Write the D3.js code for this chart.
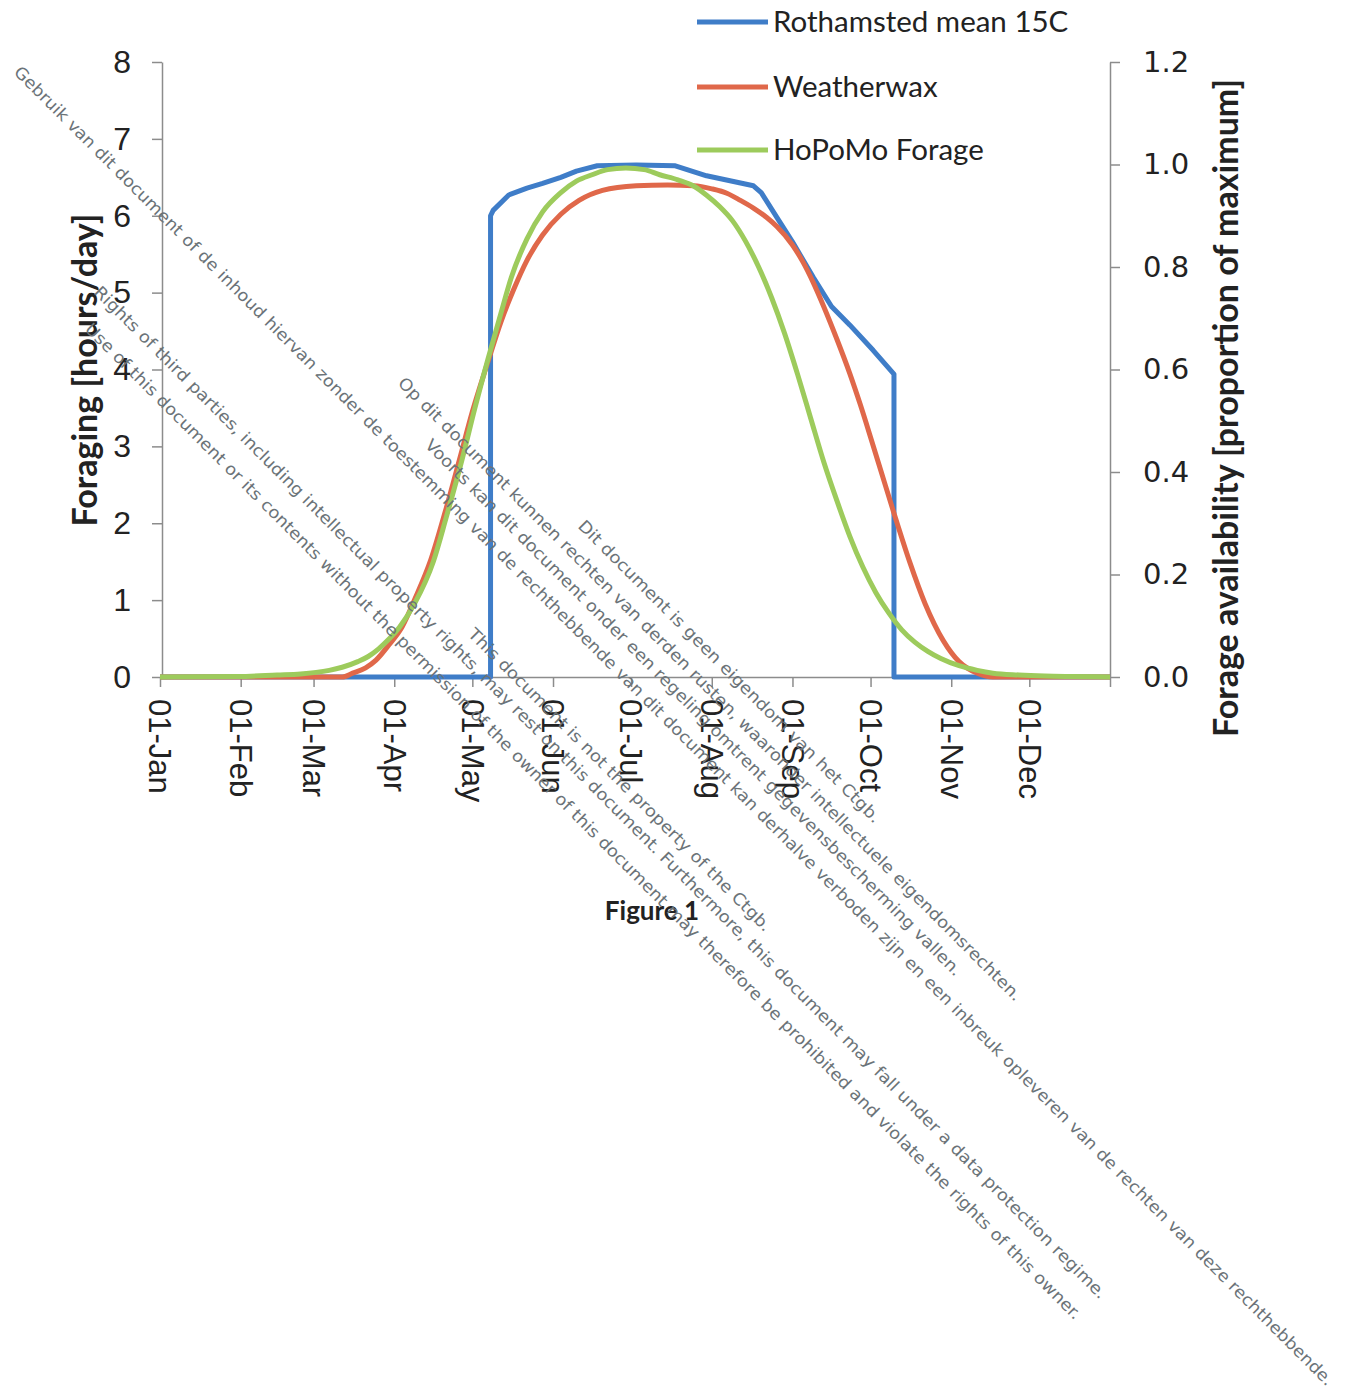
<!DOCTYPE html>
<html>
<head>
<meta charset="utf-8">
<script src="https://cdn.jsdelivr.net/npm/d3@7"></script>
<style>
  body { margin: 0; background: #fff; }
  #chart { width: 1348px; height: 1394px; }
</style>
</head>
<body>
<div id="chart"></div>
<script>
// Rothamsted mean 15C (foraging hours/day), day of year
const rothDays  = [0, 127, 127, 128, 134, 141, 147, 154, 160, 168, 183, 198, 210, 228, 231, 237, 243, 251, 258, 265, 274, 282, 282, 365];
const rothHours = [0, 0, 6.0, 6.07, 6.27, 6.36, 6.42, 6.5, 6.58, 6.65, 6.66, 6.65, 6.52, 6.39, 6.3, 5.98, 5.66, 5.2, 4.82, 4.58, 4.25, 3.94, 0, 0];

// Weatherwax (foraging hours/day)
const weatherDays  = [0, 70, 74, 79, 83, 88, 93, 98, 104, 110, 115, 120, 126, 131, 136, 141, 147, 154, 161, 170, 183, 195, 205, 212, 218, 223, 228, 233, 237, 243, 247, 251, 255, 260, 265, 269, 273, 277, 282, 288, 294, 301, 307, 314, 320, 365];
const weatherHours = [0, 0, 0.05, 0.12, 0.22, 0.42, 0.65, 1.02, 1.52, 2.2, 2.82, 3.45, 4.1, 4.62, 5.05, 5.42, 5.75, 6.02, 6.2, 6.33, 6.39, 6.4, 6.39, 6.35, 6.29, 6.2, 6.1, 5.98, 5.86, 5.62, 5.4, 5.13, 4.82, 4.4, 3.95, 3.55, 3.12, 2.68, 2.13, 1.5, 0.95, 0.47, 0.2, 0.05, 0, 0];

// HoPoMo forage (proportion of maximum)
const hopomoDays = [0, 30, 45, 54, 60, 65, 70, 76, 80, 84, 88, 92, 98, 105, 110, 116, 121, 126, 131, 135, 141, 147, 154, 160, 166, 172, 179, 186, 192, 199, 205, 210, 215, 220, 225, 230, 235, 240, 245, 250, 255, 260, 265, 270, 275, 280, 285, 290, 295, 300, 307, 314, 320, 330, 340, 350, 365];
const hopomoProp = [0, 0.001, 0.004, 0.006, 0.009, 0.013, 0.019, 0.03, 0.04, 0.055, 0.074, 0.097, 0.145, 0.225, 0.312, 0.423, 0.525, 0.62, 0.71, 0.78, 0.855, 0.9075, 0.945, 0.9675, 0.98, 0.99, 0.993, 0.99, 0.98, 0.97, 0.958, 0.94, 0.918, 0.89, 0.85, 0.80, 0.74, 0.67, 0.59, 0.505, 0.42, 0.345, 0.275, 0.215, 0.165, 0.125, 0.092, 0.068, 0.05, 0.036, 0.022, 0.013, 0.0075, 0.004, 0.002, 0.001, 0];

const seriesNames = ['Rothamsted mean 15C', 'Weatherwax', 'HoPoMo Forage'];
const leftTicks = [0, 1, 2, 3, 4, 5, 6, 7, 8];
const rightTicks = [0, 0.2, 0.4, 0.6, 0.8, 1.0, 1.2];
const leftTitle = 'Foraging [hours/day]';
const rightTitle = 'Forage availability [proportion of maximum]';
const caption = 'Figure 1';

// scanned document stamp
const stampLines = [
  'Dit document is geen eigendom van het Ctgb.',
  'Op dit document kunnen rechten van derden rusten, waaronder intellectuele eigendomsrechten.',
  'Voorts kan dit document onder een regeling omtrent gegevensbescherming vallen.',
  'Gebruik van dit document of de inhoud hiervan zonder de toestemming van de rechthebbende van dit document kan derhalve verboden zijn en een inbreuk opleveren van de rechten van deze rechthebbende.',
  'This document is not the property of the Ctgb.',
  'Rights of third parties, including intellectual property rights, may rest on this document. Furthermore, this document may fall under a data protection regime.',
  'Use of this document or its contents without the permission of the owner of this document may therefore be prohibited and violate the rights of this owner.'
];
const stampLayout = [
  { x: 577, y: 527, len: 420 },
  { x: 397, y: 384, len: 874 },
  { x: 424, y: 446, len: 751 },
  { x: 13, y: 73, len: 1858 },
  { x: 467, y: 635, len: 421 },
  { x: 93, y: 293, len: 1424 },
  { x: 84, y: 330, len: 1401 }
];

const colors = ['#3f7dc8', '#e0684a', '#9dcb5c'];
const axisColor = '#8c8c8c';
const textColor = '#222';

const width = 1348, height = 1394;
const plot = { left: 160, right: 1110, top: 62, bottom: 677 };

const dayToDate = d => new Date(2013, 0, 1 + d);

const svg = d3.select('#chart')
  .append('svg')
  .attr('width', width)
  .attr('height', height)
  .style('font-family', 'Lato, "Open Sans", sans-serif');

svg.append('rect').attr('width', width).attr('height', height).attr('fill', '#fff');

const x = d3.scaleTime()
  .domain([new Date(2013, 0, 1), new Date(2014, 0, 1)])
  .range([plot.left, plot.right]);
const yLeft = d3.scaleLinear().domain([0, 8]).range([plot.bottom, plot.top]);
const yRight = d3.scaleLinear().domain([0, 1.2]).range([plot.bottom, plot.top]);

// x axis
const fmt = d3.timeFormat('%d-%b');
const xTicks = d3.timeMonth.range(new Date(2013, 0, 1), new Date(2014, 0, 2));
const xAxis = svg.append('g')
  .attr('transform', `translate(0,${plot.bottom})`)
  .call(d3.axisBottom(x)
    .tickValues(xTicks)
    .tickFormat(d => d.getFullYear() === 2014 ? '' : fmt(d))
    .tickSize(10)
    .tickSizeOuter(0));
xAxis.selectAll('text')
  .attr('transform', 'rotate(90)')
  .attr('x', 22)
  .attr('y', 0)
  .attr('dy', '0.36em')
  .style('text-anchor', 'start')
  .style('font-size', '31px')
  .attr('fill', textColor);

// left axis
const leftAxis = svg.append('g')
  .attr('transform', `translate(${plot.left + 2},0)`)
  .call(d3.axisLeft(yLeft).tickValues(leftTicks).tickFormat(d3.format('d')).tickSize(10).tickPadding(21).tickSizeOuter(0));
leftAxis.selectAll('text').style('font-size', '32px').attr('fill', textColor);

// right axis
const rightAxis = svg.append('g')
  .attr('transform', `translate(${plot.right},0)`)
  .call(d3.axisRight(yRight).tickValues(rightTicks).tickFormat(d3.format('.1f')).tickSize(10).tickPadding(23).tickSizeOuter(0));
rightAxis.selectAll('text')
  .style('font-size', '29px')
  .style('font-family', '"DejaVu Sans", sans-serif')
  .attr('fill', textColor);

[xAxis, leftAxis, rightAxis].forEach(g => {
  g.selectAll('.domain, line').attr('stroke', axisColor).attr('stroke-width', 1.5);
});

// axis titles
svg.append('text')
  .attr('transform', `translate(97,370) rotate(-90)`)
  .attr('text-anchor', 'middle')
  .style('font-size', '34px')
  .style('font-weight', 'bold')
  .attr('fill', textColor)
  .text(leftTitle);

svg.append('text')
  .attr('transform', `translate(1238,408) rotate(-90)`)
  .attr('text-anchor', 'middle')
  .style('font-size', '34px')
  .style('font-weight', 'bold')
  .attr('fill', textColor)
  .text(rightTitle);

svg.append('text')
  .attr('x', 652)
  .attr('y', 920)
  .attr('text-anchor', 'middle')
  .style('font-size', '26px')
  .style('font-weight', 'bold')
  .attr('fill', textColor)
  .text(caption);

// series
const series = [
  { days: rothDays, values: rothHours, y: yLeft, curve: d3.curveLinear },
  { days: weatherDays, values: weatherHours, y: yLeft, curve: d3.curveMonotoneX },
  { days: hopomoDays, values: hopomoProp, y: yRight, curve: d3.curveMonotoneX }
];

series.forEach((s, i) => {
  const pts = s.days.map((d, k) => ({ date: dayToDate(d), v: s.values[k] }));
  const line = d3.line()
    .x(p => x(p.date))
    .y(p => s.y(p.v))
    .curve(s.curve);
  svg.append('path')
    .datum(pts)
    .attr('d', line)
    .attr('fill', 'none')
    .attr('stroke', colors[i])
    .attr('stroke-width', 5)
    .attr('stroke-linejoin', 'round');
});

// legend
const legend = svg.append('g');
const legendY = [22, 87, 150];
seriesNames.forEach((name, i) => {
  legend.append('line')
    .attr('x1', 697).attr('x2', 768)
    .attr('y1', legendY[i]).attr('y2', legendY[i])
    .attr('stroke', colors[i])
    .attr('stroke-width', 5);
  legend.append('text')
    .attr('x', 773)
    .attr('y', legendY[i])
    .attr('dy', '0.35em')
    .style('font-size', '29.5px')
    .attr('fill', textColor)
    .text(name);
});

// diagonal stamp text
const stamp = svg.append('g')
  .style('font-family', '"DejaVu Sans", sans-serif')
  .style('font-size', '16.5px')
  .attr('fill', '#6b7378');
stampLines.forEach((t, i) => {
  const p = stampLayout[i];
  stamp.append('text')
    .attr('transform', `translate(${p.x},${p.y}) rotate(45)`)
    .attr('textLength', p.len)
    .attr('lengthAdjust', 'spacingAndGlyphs')
    .text(t);
});
</script>
</body>
</html>
